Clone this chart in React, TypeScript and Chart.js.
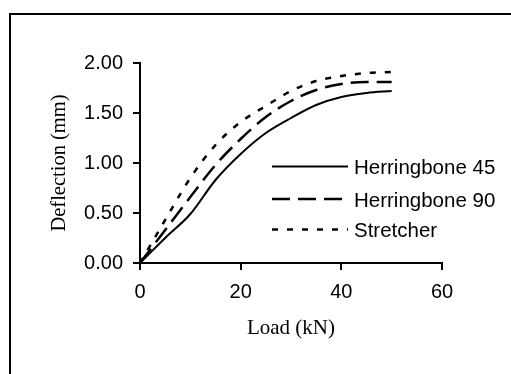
import React, { useEffect, useRef } from "react";
import { Chart, registerables } from "chart.js";

Chart.register(...registerables);

const loads = [0, 5, 10, 15, 20, 25, 30, 35, 40, 45, 50];
const herringbone45 = [0, 0.25, 0.49, 0.83, 1.09, 1.3, 1.45, 1.58, 1.66, 1.7, 1.72];
const herringbone90 = [0, 0.33, 0.66, 0.98, 1.24, 1.46, 1.62, 1.73, 1.79, 1.81, 1.81];
const stretcher = [0, 0.43, 0.85, 1.18, 1.41, 1.57, 1.72, 1.82, 1.87, 1.9, 1.91];
const seriesLabels = ["Herringbone 45", "Herringbone 90", "Stretcher"];
const xTickValues = [0, 20, 40, 60];
const yTickValues = [0, 0.5, 1, 1.5, 2];
const xTitle = "Load (kN)";
const yTitle = "Deflection (mm)";

const toPoints = (ys: number[]) => ys.map((y, i) => ({ x: loads[i], y }));

const framePlugin = {
  id: "frame",
  beforeDraw(chart: any) {
    const ctx = chart.ctx;
    ctx.save();
    ctx.fillStyle = "#ffffff";
    ctx.fillRect(0, 0, chart.width, chart.height);
    ctx.strokeStyle = "#000000";
    ctx.lineWidth = 2;
    ctx.beginPath();
    ctx.moveTo(10, chart.height + 2);
    ctx.lineTo(10, 14);
    ctx.lineTo(chart.width + 2, 14);
    ctx.stroke();
    ctx.restore();
  },
};

const innerLegendPlugin = {
  id: "innerLegend",
  afterDraw(chart: any) {
    const ctx = chart.ctx;
    const rows = [166.5, 199, 229.5];
    ctx.save();
    chart.data.datasets.forEach((ds: any, i: number) => {
      const y = rows[i];
      ctx.strokeStyle = "#000000";
      ctx.lineWidth = ds.borderWidth;
      ctx.setLineDash(ds.borderDash || []);
      ctx.beginPath();
      ctx.moveTo(272, y);
      ctx.lineTo(348, y);
      ctx.stroke();
      ctx.setLineDash([]);
      ctx.fillStyle = "#000000";
      ctx.font = "20.5px 'Liberation Sans', Arial, sans-serif";
      ctx.textBaseline = "middle";
      ctx.textAlign = "left";
      ctx.fillText(ds.label, 354, y + 2);
    });
    ctx.restore();
  },
};

export default function App() {
  const ref = useRef<HTMLCanvasElement | null>(null);

  useEffect(() => {
    if (!ref.current) return;
    const chart = new Chart(ref.current, {
      type: "line",
      data: {
        datasets: [
          {
            label: seriesLabels[0],
            data: toPoints(herringbone45),
            borderColor: "#000000",
            borderWidth: 2,
            borderDash: [],
            pointRadius: 0,
            cubicInterpolationMode: "monotone",
            fill: false,
            clip: false,
          },
          {
            label: seriesLabels[1],
            data: toPoints(herringbone90),
            borderColor: "#000000",
            borderWidth: 2.5,
            borderDash: [18, 8],
            pointRadius: 0,
            cubicInterpolationMode: "monotone",
            fill: false,
            clip: false,
          },
          {
            label: seriesLabels[2],
            data: toPoints(stretcher),
            borderColor: "#000000",
            borderWidth: 2.5,
            borderDash: [6, 9],
            pointRadius: 0,
            cubicInterpolationMode: "monotone",
            fill: false,
            clip: false,
          },
        ],
      },
      options: {
        animation: false,
        responsive: false,
        devicePixelRatio: 1,
        layout: { padding: { left: 43, top: 63, right: 69, bottom: 29 } },
        plugins: { legend: { display: false }, tooltip: { enabled: false } },
        scales: {
          x: {
            type: "linear",
            min: 0,
            max: 60,
            afterBuildTicks: (s: any) => {
              s.ticks = xTickValues.map((v) => ({ value: v }));
            },
            afterFit: (s: any) => {
              s.height = 82;
            },
            ticks: {
              color: "#000000",
              padding: 10,
              maxRotation: 0,
              font: { family: "'Liberation Sans', Arial, sans-serif", size: 20 },
              callback: (v: any) => String(v),
            },
            grid: {
              display: true,
              drawOnChartArea: false,
              drawTicks: true,
              tickLength: 7,
              color: "#000000",
              lineWidth: 2,
            },
            border: { display: true, color: "#000000", width: 2 },
            title: {
              display: true,
              text: xTitle,
              color: "#000000",
              font: { family: "'Liberation Serif', 'Times New Roman', serif", size: 21 },
              padding: { top: 4, bottom: 4 },
            },
          },
          y: {
            type: "linear",
            min: 0,
            max: 2,
            afterBuildTicks: (s: any) => {
              s.ticks = yTickValues.map((v) => ({ value: v }));
            },
            afterFit: (s: any) => {
              s.width = 97;
            },
            ticks: {
              color: "#000000",
              padding: 10,
              font: { family: "'Liberation Sans', Arial, sans-serif", size: 20 },
              callback: (v: any) => Number(v).toFixed(2),
            },
            grid: {
              display: true,
              drawOnChartArea: false,
              drawTicks: true,
              tickLength: 7,
              color: "#000000",
              lineWidth: 2,
            },
            border: { display: true, color: "#000000", width: 2 },
            title: {
              display: true,
              text: yTitle,
              color: "#000000",
              font: { family: "'Liberation Serif', 'Times New Roman', serif", size: 20.5 },
              padding: { top: 4, bottom: 4 },
            },
          },
        },
      },
      plugins: [framePlugin, innerLegendPlugin],
    });
    return () => chart.destroy();
  }, []);

  return (
    <div style={{ position: "fixed", left: 0, top: 0, width: 511, height: 374, background: "#fff" }}>
      <canvas ref={ref} width={511} height={374} style={{ display: "block" }} />
    </div>
  );
}
